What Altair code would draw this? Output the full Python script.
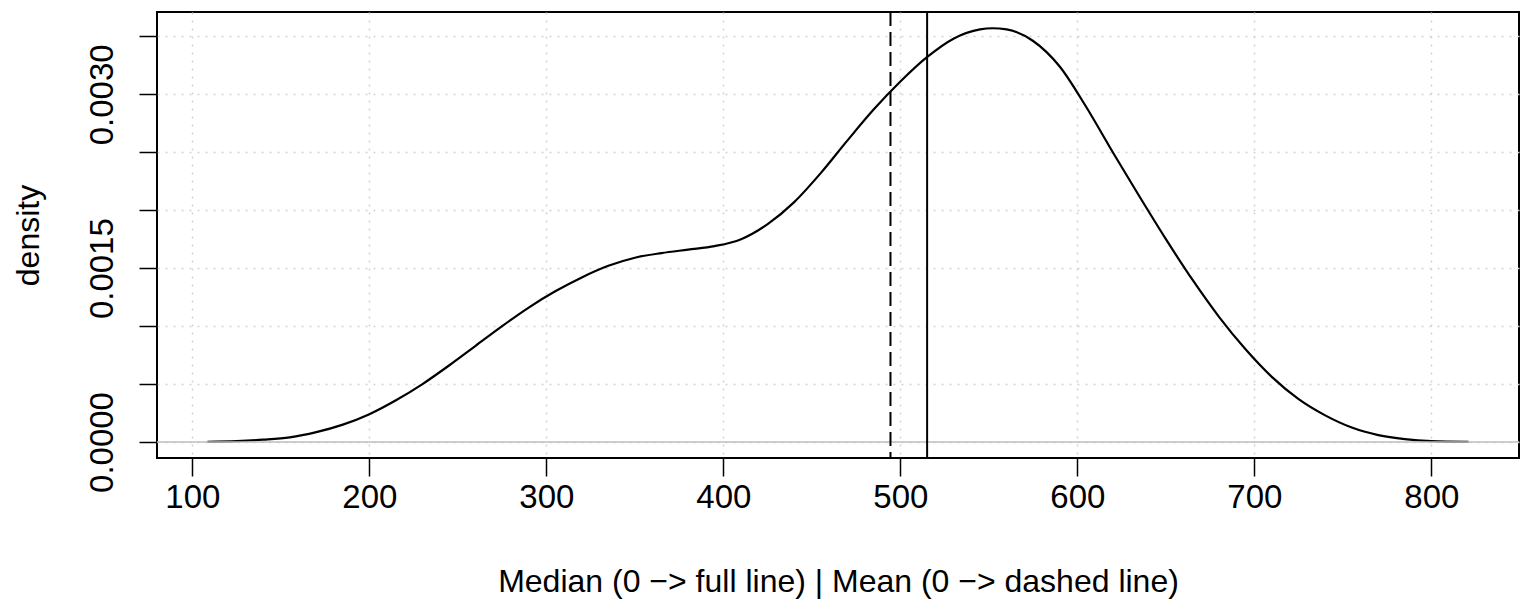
import altair as alt
import pandas as pd

# density curve
dens_x = [108.5, 125, 140, 155, 170, 185, 200, 215, 230, 245, 260, 275, 290, 305,
          320, 335, 350, 365, 380, 395, 410, 425, 440, 455, 470, 485, 500, 515,
          530, 545, 552, 560, 575, 590, 605, 620, 635, 650, 665, 680, 695, 710,
          725, 740, 755, 770, 785, 800, 821]
dens_y = [0.000002, 0.000008, 0.00002, 0.00004, 0.000085, 0.00015, 0.00024, 0.00036,
          0.00050, 0.00066, 0.00083, 0.00100, 0.00116, 0.00130, 0.00142, 0.00152,
          0.00159, 0.00163, 0.00166, 0.00169, 0.00175, 0.00188, 0.00207, 0.00232,
          0.00260, 0.00287, 0.00311, 0.00332, 0.00348, 0.00356, 0.00357, 0.00356,
          0.00346, 0.00324, 0.00289, 0.00250, 0.00212, 0.00175, 0.00140, 0.00108,
          0.00080, 0.00056, 0.00037, 0.00023, 0.000125, 0.00006, 0.000025, 0.000008,
          0.000002]

median_value = [515.1]
mean_value = [494.4]
zero_line = [0.0]

x_ticks = [100, 200, 300, 400, 500, 600, 700, 800]
y_ticks = [0.0, 0.0005, 0.001, 0.0015, 0.002, 0.0025, 0.003, 0.0035]
y_labelled = [0.0, 0.0015, 0.003]

x_domain = [80.0, 849.5]
y_domain = [-0.000138, 0.00371]

x_title = "Median (0 \u2212> full line) | Mean (0 \u2212> dashed line)"
y_title = "density"

FONT = "Liberation Sans"
FS = 33
TFS = 32
W, H = 1362, 446

curve_df = pd.DataFrame({"x": dens_x, "y": dens_y})
med_df = pd.DataFrame({"x": median_value})
mean_df = pd.DataFrame({"x": mean_value})
zero_df = pd.DataFrame({"y": zero_line})

cond = " || ".join(f"abs(datum.value - {v}) < 1e-9" for v in y_labelled)
y_label_expr = f"({cond}) ? format(datum.value, '.4f') : ''"

x_scale = alt.Scale(domain=x_domain, nice=False, zero=False)
y_scale = alt.Scale(domain=y_domain, nice=False, zero=False)

x_axis = alt.Axis(
    values=x_ticks, title=x_title, grid=True, gridColor="#D3D3D3",
    gridDash=[2, 6], gridWidth=1.5, domain=False, ticks=True, tickSize=18,
    tickColor="black", tickWidth=1.5, labelFont=FONT, labelFontSize=FS,
    labelColor="black", labelPadding=31, labelBaseline="alphabetic",
    labelOverlap=False, labelFlush=False, titleFont=FONT, titleFontSize=TFS,
    titleFontWeight="normal", titleColor="black", titleX=W / 2, titleY=133,
    titleBaseline="alphabetic", titleAlign="center", format="d",
)
y_axis = alt.Axis(
    values=y_ticks, title=y_title, grid=True, gridColor="#D3D3D3",
    gridDash=[2, 6], gridWidth=1.5, domain=False, ticks=True, tickSize=18,
    tickColor="black", tickWidth=1.5, labelFont=FONT, labelFontSize=FS,
    labelColor="black", labelPadding=27, labelAngle=270, labelAlign="center",
    labelBaseline="alphabetic", labelOverlap=False, labelFlush=False,
    labelExpr=y_label_expr, titleFont=FONT, titleFontSize=TFS,
    titleFontWeight="normal", titleColor="black", titleAngle=270,
    titleX=-119, titleY=H / 2, titleBaseline="alphabetic", titleAlign="center",
)

curve = alt.Chart(curve_df).mark_line(
    color="black", strokeWidth=2.2, interpolate="monotone"
).encode(
    x=alt.X("x:Q", scale=x_scale, axis=x_axis),
    y=alt.Y("y:Q", scale=y_scale, axis=y_axis),
)

zero = alt.Chart(zero_df).mark_rule(color="#BEBEBE", strokeWidth=1.5).encode(
    y=alt.Y("y:Q", scale=y_scale)
)

med = alt.Chart(med_df).mark_rule(color="black", strokeWidth=2).encode(
    x=alt.X("x:Q", scale=x_scale)
)
mean = alt.Chart(mean_df).mark_rule(
    color="black", strokeWidth=2, strokeDash=[14, 6]
).encode(x=alt.X("x:Q", scale=x_scale))

chart = alt.layer(curve, zero, med, mean).properties(
    width=W, height=H,
    autosize=alt.AutoSizeParams(type="none"),
    padding={"left": 149, "top": 4, "right": 4, "bottom": 150},
).configure(
    background="white",
    view=alt.ViewConfig(stroke="black", strokeWidth=2),
)

chart.save("out.html", embed_options={"renderer": "svg", "actions": False})
